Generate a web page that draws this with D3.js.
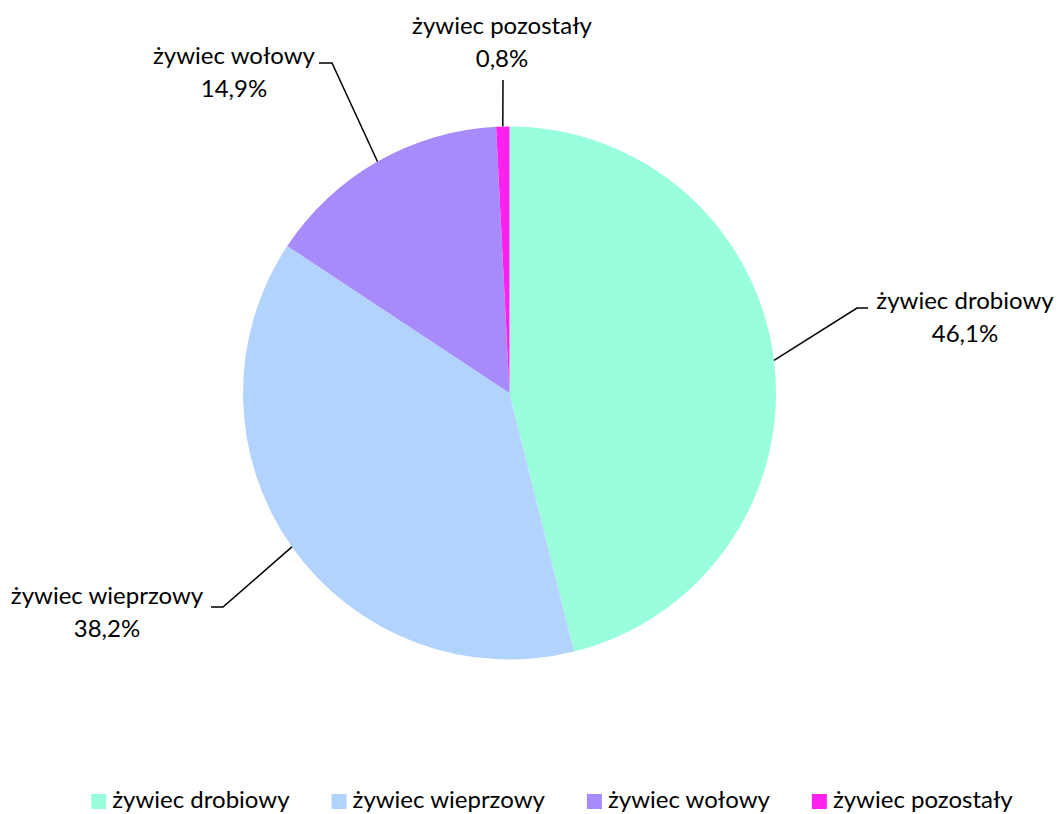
<!DOCTYPE html>
<html>
<head>
<meta charset="utf-8">
<script src="https://cdn.jsdelivr.net/npm/d3@7"></script>
<style>
  body { margin: 0; background: #fff; }
  svg text { font-family: Lato, "Noto Sans", sans-serif; fill: #000; }
</style>
</head>
<body>
<figure id="pie-chart" style="margin:0"></figure>
<script>
// chart data
const categories = ['żywiec drobiowy', 'żywiec wieprzowy', 'żywiec wołowy', 'żywiec pozostały'];
const shares = [46.1, 38.2, 14.9, 0.8];
const colors = ['#99FFDB', '#B3D3FF', '#A78BFA', '#FF22EE'];

const width = 1058;
const height = 814;
const cx = 509.5;
const cy = 393;
const radius = 266.5;
const fontSize = 24;

// where each label sits: elbow of leader line, end of short tick, label center / first baseline
const labelLayout = [
  { elbow: [857, 308], tickEnd: [868, 308], textX: 965, textY: 309, anchor: 'middle' },
  { elbow: [223, 607], tickEnd: [211, 607], textX: 107, textY: 604, anchor: 'middle' },
  { elbow: [332, 63], tickEnd: [319, 63], textX: 234, textY: 64, anchor: 'middle' },
  { elbow: [503, 80], tickEnd: [503, 80], textX: 502, textY: 34, anchor: 'middle' }
];

const svg = d3.select('figure#pie-chart')
  .append('svg')
  .attr('width', width)
  .attr('height', height);

const data = categories.map((c, i) => ({ name: c, value: shares[i], color: colors[i], layout: labelLayout[i] }));

const pie = d3.pie()
  .sort(null)
  .value(d => d.value);

const arc = d3.arc()
  .innerRadius(0)
  .outerRadius(radius);

const chart = svg.append('g')
  .attr('transform', 'translate(' + cx + ',' + cy + ')');

const arcs = pie(data);

chart.selectAll('path.slice')
  .data(arcs)
  .join('path')
  .attr('class', 'slice')
  .attr('d', arc)
  .attr('fill', d => d.data.color);

// leader lines from the slice edge at its mid angle
const leader = svg.append('g');
leader.selectAll('polyline')
  .data(arcs)
  .join('polyline')
  .attr('points', d => {
    const mid = (d.startAngle + d.endAngle) / 2;
    const x0 = cx + radius * Math.sin(mid);
    const y0 = cy - radius * Math.cos(mid);
    const l = d.data.layout;
    return [[x0, y0], l.elbow, l.tickEnd].map(p => p.join(',')).join(' ');
  })
  .attr('fill', 'none')
  .attr('stroke', '#000')
  .attr('stroke-width', 1.5);

// data labels
const labels = svg.append('g');
labels.selectAll('text')
  .data(arcs)
  .join('text')
  .attr('text-anchor', d => d.data.layout.anchor)
  .style('font-size', fontSize + 'px')
  .each(function (d) {
    const t = d3.select(this);
    const l = d.data.layout;
    t.append('tspan').attr('x', l.textX).attr('y', l.textY).text(d.data.name);
    t.append('tspan').attr('x', l.textX).attr('y', l.textY + 33)
      .text(d3.format('.1f')(d.data.value).replace('.', ',') + '%');
  });

// legend
const legend = svg.append('g');
const items = legend.selectAll('g.item')
  .data(data)
  .join('g')
  .attr('class', 'item');

items.append('rect')
  .attr('width', 15)
  .attr('height', 15)
  .attr('y', 794)
  .attr('fill', d => d.color);

items.append('text')
  .attr('x', 21)
  .attr('y', 808)
  .style('font-size', fontSize + 'px')
  .text(d => d.name);

const gap = 42;
let widths = [];
items.select('text').each(function () { widths.push(this.getComputedTextLength() + 21); });
const total = d3.sum(widths) + gap * (widths.length - 1);
let xPos = 552 - total / 2;
items.attr('transform', (d, i) => {
  const x = xPos;
  xPos += widths[i] + gap;
  return 'translate(' + x + ',0)';
});
</script>
</body>
</html>
